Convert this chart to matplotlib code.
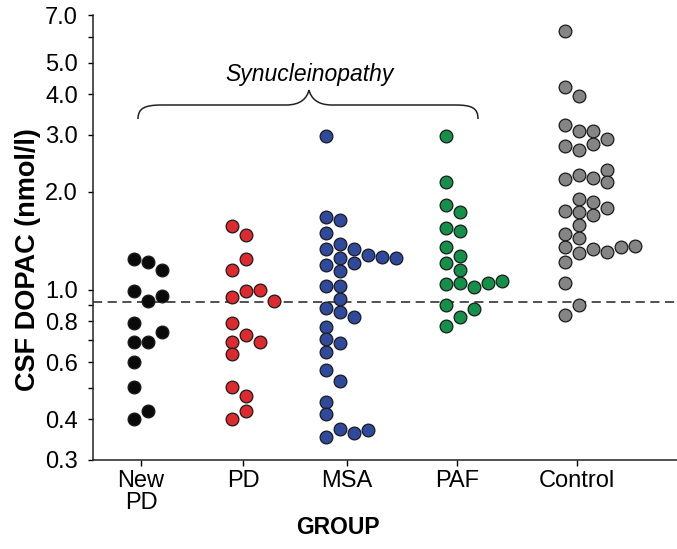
import numpy as np
import matplotlib
matplotlib.use("Agg")
import matplotlib.pyplot as plt
from matplotlib.path import Path
from matplotlib.patches import PathPatch

plt.rcParams['font.family'] = ['Liberation Sans', 'DejaVu Sans']

# -----------------------------
# DATA (CSF DOPAC, nmol/l), listed in plotting order
# -----------------------------
groups = ["New\nPD", "PD", "MSA", "PAF", "Control"]

new_pd = [1.246, 1.218, 1.153, 0.992, 0.924, 0.958, 0.793, 0.692, 0.692,
          0.744, 0.602, 0.504, 0.401, 0.423]
pd_vals = [1.576, 1.475, 1.151, 1.245, 0.953, 0.994, 1.002, 0.926, 0.793,
           0.693, 0.727, 0.693, 0.634, 0.502, 0.472, 0.402, 0.425]
msa = [2.972, 1.679, 1.640, 1.493, 1.333, 1.381, 1.333, 1.278, 1.251,
       1.265, 1.251, 1.193, 1.143, 1.207, 1.030, 1.026, 0.882, 0.938,
       0.857, 0.827, 0.771, 0.707, 0.688, 0.646, 0.567, 0.525, 0.451,
       0.414, 0.352, 0.373, 0.362, 0.371]
paf = [2.972, 2.150, 1.824, 1.740, 1.547, 1.517, 1.352, 1.271, 1.212,
       1.151, 1.043, 1.048, 1.023, 1.052, 1.067, 0.899, 0.827, 0.874,
       0.774]
control = [6.264, 4.214, 3.946, 3.214, 3.086, 3.071, 2.770, 2.692, 2.809,
           2.904, 2.188, 2.256, 2.213, 2.345, 2.146, 1.752, 1.898, 1.857,
           1.789, 1.736, 1.697, 1.482, 1.578, 1.444, 1.352, 1.296, 1.333,
           1.310, 1.352, 1.367, 1.216, 1.048, 0.837, 0.899]

cutoff = 0.915

yticks_major = [0.3, 0.4, 0.6, 0.8, 1.0, 2.0, 3.0, 4.0, 5.0, 7.0]
yticks_minor = [0.5, 0.7, 0.9, 6.0]

# -----------------------------
# LAYOUT / STYLE
# -----------------------------
all_groups = [new_pd, pd_vals, msa, paf, control]
xpos = [1.0, 2.0, 3.016, 4.095, 5.275]
start_px = [-7, -11, -21, -11, -12]      # first column offset from tick
colors = ["#0a0a0a", "#dc2a2e", "#2f4a9c", "#14904a", "#858585"]

W, H = 677, 549
PX = 102.0  # pixels per x unit
fig = plt.figure(figsize=(W / 100, H / 100), dpi=100)
ax = fig.add_axes([92.7 / W, 1 - 460 / H, (W - 92.7) / W, (460 - 15) / H])

ax.set_yscale("log")
ax.set_ylim(0.3, 7.0)
ax.set_xlim(1 - (141 - 92.7) / PX, 1 + (W - 141) / PX)


def swarm_columns(values, d_px=12.0):
    # greedy: each point goes to the first column with no close neighbour
    ys = ax.transData.transform(np.column_stack([np.ones(len(values)), values]))[:, 1]
    placed = {}
    cols = []
    for y in ys:
        c = 0
        while any(abs(y - yy) < d_px for yy in placed.get(c, [])):
            c += 1
        placed.setdefault(c, []).append(y)
        cols.append(c)
    return np.array(cols)


step = 14 / PX
for vals, x0, off, col in zip(all_groups, xpos, start_px, colors):
    cols = swarm_columns(vals)
    xs = x0 + off / PX + cols * step
    ax.scatter(xs, vals, s=84, color=col, edgecolors="#1a1a1a",
               linewidths=0.9, zorder=3)

# cutoff line
ax.axhline(cutoff, color="#222222", lw=1.1, linestyle=(0, (6, 3.6)), zorder=2)

# axes styling
for side in ["top", "right"]:
    ax.spines[side].set_visible(False)
for side in ["left", "bottom"]:
    ax.spines[side].set_linewidth(1.1)
    ax.spines[side].set_color("#222222")

ax.set_yticks(yticks_major)
ax.set_yticklabels([f"{v:.1f}" for v in yticks_major])
ax.set_yticks(yticks_minor, minor=True)
ax.yaxis.set_minor_formatter(plt.NullFormatter())
ax.tick_params(axis="y", which="both", direction="out", length=3.5,
               width=1.0, pad=7, labelsize=17)

ax.set_xticks(xpos)
ax.set_xticklabels(groups, linespacing=1.0)
ax.tick_params(axis="x", direction="out", length=4, width=1.0, pad=3,
               labelsize=17)

ax.set_ylabel("CSF DOPAC (nmol/l)", fontsize=19.5, fontweight="bold")
ax.yaxis.set_label_coords((28 - 92.7) / (W - 92.7), (460 - 260) / 445)
ax.set_xlabel("GROUP", fontsize=16.5, fontweight="bold")
ax.xaxis.set_label_coords((338 - 92.7) / (W - 92.7), (460 - 528) / 445)
ax.xaxis.label.set_va("center")
ax.yaxis.label.set_va("center")

# -----------------------------
# BRACE + LABEL (figure pixel coords, y down)
# -----------------------------
def fp(x, y):
    return (x / W, 1 - y / H)

brace_pts = [
    (138, 119), (138, 108), (145, 105), (162, 105),
    (286, 105),
    (301, 105), (307, 98), (309, 90),
    (311, 98), (317, 105), (332, 105),
    (455, 105),
    (472, 105), (478, 108), (478, 119),
]
codes = [Path.MOVETO, Path.CURVE4, Path.CURVE4, Path.CURVE4,
         Path.LINETO,
         Path.CURVE4, Path.CURVE4, Path.CURVE4,
         Path.CURVE4, Path.CURVE4, Path.CURVE4,
         Path.LINETO,
         Path.CURVE4, Path.CURVE4, Path.CURVE4]
brace = Path([fp(*p) for p in brace_pts], codes)
fig.patches.append(PathPatch(brace, transform=fig.transFigure, fill=False,
                             lw=1.1, edgecolor="#222222"))

fig.text(*fp(310, 74), "Synucleinopathy", ha="center", va="center",
         fontsize=16.5, style="italic")

fig.savefig("out.png", dpi=100)
